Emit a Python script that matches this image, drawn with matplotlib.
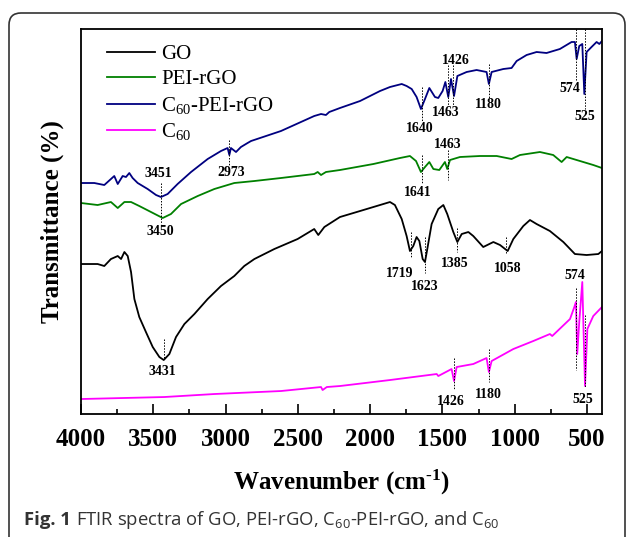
import matplotlib
matplotlib.use("Agg")
import matplotlib.pyplot as plt
from matplotlib.patches import FancyBboxPatch

plt.rcParams['font.family'] = ['Liberation Serif', 'DejaVu Serif']
plt.rcParams['mathtext.default'] = 'regular'

# wavenumber (cm-1) / transmittance (a.u., curves offset)
go_wn = [4000, 3885, 3839, 3793, 3746, 3723, 3700, 3677, 3654, 3631, 3597, 3551, 3504,
         3458, 3428, 3389, 3343, 3285, 3216, 3124, 3032, 2940, 2871, 2801, 2663, 2502,
         2387, 2359, 2317, 2209, 2070, 1932, 1863, 1829, 1782, 1748, 1725, 1702, 1679,
         1660, 1637, 1621, 1605, 1575, 1529, 1494, 1467, 1425, 1397, 1367, 1321, 1287,
         1218, 1148, 1102, 1049, 1010, 941, 895, 849, 757, 664, 584, 503, 422, 397]
go_t = [150, 150, 148, 155, 158, 155, 162, 158, 142, 115, 97, 82, 67,
        57, 54, 60, 77, 90, 100, 115, 128, 138, 148, 155, 165, 175,
        185, 179, 187, 197, 203, 209, 212, 209, 195, 178, 163, 168, 177,
        173, 155, 152, 165, 190, 205, 209, 200, 182, 172, 180, 182, 178,
        167, 172, 169, 163, 175, 188, 194, 190, 183, 172, 160, 159, 160, 163]

pei_wn = [4000, 3885, 3793, 3746, 3700, 3654, 3597, 3516, 3435, 3378, 3308, 3193, 3078,
          2940, 2801, 2617, 2387, 2363, 2340, 2306, 2209, 1978, 1794, 1725, 1683, 1649,
          1621, 1591, 1563, 1522, 1483, 1467, 1448, 1379, 1241, 1125, 1022, 964, 826,
          734, 676, 641, 549, 457, 397]
pei_t = [211, 209, 212, 206, 212, 212, 208, 202, 196, 200, 210, 218, 225,
         231, 233, 236, 240, 242, 239, 242, 244, 250, 256, 258, 253, 242,
         247, 252, 245, 244, 252, 245, 254, 257, 258, 258, 255, 259, 262,
         259, 252, 257, 253, 249, 246]

c60pei_wn = [4000, 3908, 3839, 3793, 3770, 3746, 3712, 3689, 3666, 3643, 3608, 3539, 3481,
             3447, 3401, 3332, 3239, 3124, 3032, 2986, 2974, 2963, 2928, 2894, 2848, 2824,
             2617, 2387, 2340, 2306, 2283, 2209, 2070, 1932, 1863, 1782, 1748, 1713, 1679,
             1649, 1621, 1591, 1552, 1529, 1499, 1480, 1460, 1441, 1420, 1397, 1333, 1264,
             1195, 1179, 1160, 1079, 1022, 987, 918, 849, 780, 688, 607, 584, 572, 554,
             533, 519, 503, 469, 434, 415, 397]
c60pei_t = [231, 231, 229, 235, 238, 230, 238, 237, 241, 236, 231, 225, 219,
            217, 220, 230, 242, 255, 263, 266, 259, 266, 262, 267, 271, 273,
            283, 298, 300, 299, 302, 306, 313, 323, 327, 330, 328, 325, 317,
            305, 315, 326, 317, 316, 323, 332, 317, 335, 318, 338, 342, 344,
            342, 330, 342, 345, 346, 353, 359, 362, 361, 365, 372, 372, 355, 368,
            370, 320, 362, 367, 372, 370, 373]

c60_wn = [4000, 3424, 3078, 2617, 2340, 2329, 2300, 2209, 1863, 1540, 1529, 1437, 1420,
          1402, 1287, 1195, 1179, 1160, 1010, 872, 757, 741, 618, 588, 577, 568, 554,
          533, 514, 498, 457, 397]
c60_t = [15, 17, 20, 23, 27, 24, 27, 28, 34, 40, 38, 45, 33,
         47, 50, 56, 42, 53, 65, 73, 80, 78, 95, 107, 112, 60, 92,
         132, 28, 85, 98, 107]

# peak labels: (text, text_x, text_y, line_x, line_y0, line_y1)
c60pei_marks = [("3451", 3465, 241, 3447, 231, 190),
                ("2973", 2958, 242, 2974, 274, 249),
                ("1640", 1655, 286, 1644, 327, 292),
                ("1426", 1407, 354, 1426, 349, 309),
                ("1463", 1476, 302, 1463, 349, 309),
                ("1180", 1180, 310, 1180, 350, 316),
                ("574", 617, 326, 574, 385, 333),
                ("525", 519, 298, 517, 385, 305)]
pei_marks = [("3450", 3451, 183, None, 0, 0),
             ("1641", 1672, 222, 1644, 259, 231),
             ("1463", 1460, 270, 1463, 264, 234)]
go_marks = [("3431", 3435, 43, 3428, 75, 55),
            ("1719", 1794, 141, 1719, 182, 156),
            ("1623", 1621, 128, 1623, 177, 141),
            ("1385", 1418, 151, 1397, 186, 162),
            ("1058", 1045, 146, 1058, 177, 161)]
c60_marks = [("574", 588, 139, 574, 126, 44),
             ("525", 531, 15, 517, 99, 27),
             ("1426", 1441, 13, 1420, 56, 24),
             ("1180", 1183, 20, 1179, 65, 32)]

fig = plt.figure(figsize=(6.29, 5.37), dpi=100)
ax = fig.add_axes([0.1288, 0.229, 0.8282, 0.717])

ax.plot(go_wn, go_t, color='black', lw=1.3, label='GO')
ax.plot(pei_wn, pei_t, color='#008000', lw=1.3, label='PEI-rGO')
ax.plot(c60pei_wn, c60pei_t, color='#000080', lw=1.3, label='C$_{60}$-PEI-rGO')
ax.plot(c60_wn, c60_t, color='#ff00ff', lw=1.3, label='C$_{60}$')

for marks in (c60pei_marks, pei_marks, go_marks, c60_marks):
    for txt, tx, ty, lx, y0, y1 in marks:
        ax.text(tx, ty, txt, ha='center', va='center', fontsize=10, fontweight='bold')
        if lx is not None:
            ax.plot([lx, lx], [y0, y1], color='black', lw=0.7, ls=(0, (1.5, 1.5)))

ax.set_xlim(4000, 397)
ax.set_ylim(0, 385)
ax.set_xticks([4000, 3500, 3000, 2500, 2000, 1500, 1000, 500])
ax.set_xticks([3750, 3250, 2750, 2250, 1750, 1250, 750], minor=True)
ax.set_yticks([])
ax.tick_params(axis='x', which='major', direction='in', length=7, width=1.2,
               labelsize=18, pad=10)
ax.tick_params(axis='x', which='minor', direction='in', length=3.5, width=1.2)
for lab in ax.get_xticklabels():
    lab.set_fontweight('bold')
for sp in ax.spines.values():
    sp.set_linewidth(1.3)

ax.set_xlabel('Wavenumber (cm$^{\u2010 1}$)', fontsize=18, fontweight='bold', labelpad=12)
ax.set_ylabel('Transmittance (%)', fontsize=18, fontweight='bold', labelpad=12)

ax.legend(loc='upper left', bbox_to_anchor=(0.05, 0.96), frameon=False, fontsize=15,
          handlelength=2.3, handletextpad=0.3, labelspacing=0.27, borderpad=0,
          borderaxespad=0)

# outer rounded frame and caption
frame = FancyBboxPatch((0.09, -0.3), 6.16, 5.54, boxstyle='round,pad=0,rounding_size=0.12',
                       transform=fig.dpi_scale_trans, facecolor='none',
                       edgecolor='#333333', lw=1.2)
fig.patches.append(frame)

cap1 = fig.text(24 / 629, 1 - 520 / 537, 'Fig. 1', fontsize=13.3, fontweight='bold',
                family='Open Sans', color='#333333', va='center')
fig.canvas.draw()
bb = cap1.get_window_extent()
fig.text((bb.x1 + 5) / 629, 1 - 520 / 537,
         'FTIR spectra of GO, PEI-rGO, C$_{60}$-PEI-rGO, and C$_{60}$',
         fontsize=13.3, family='Open Sans', color='#333333', va='center')

fig.savefig('out.png', dpi=100)
